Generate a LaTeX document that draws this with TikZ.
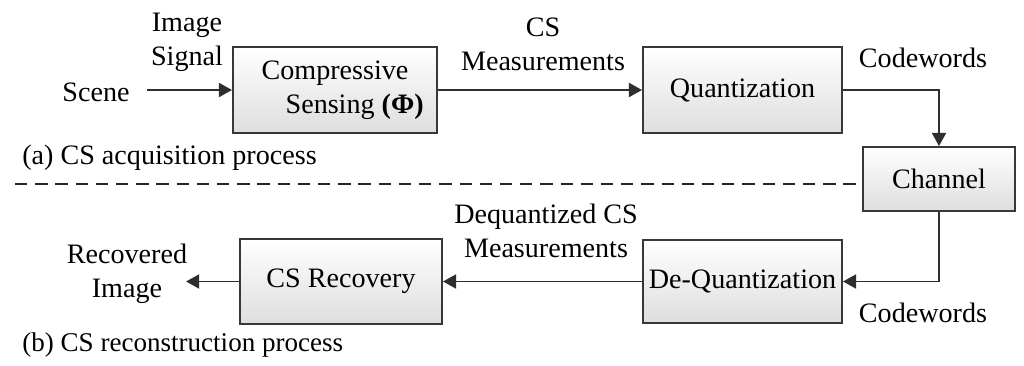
\documentclass[tikz,border=0pt]{standalone}
\usepackage{fontspec}
\setmainfont{Liberation Serif}
\usetikzlibrary{arrows.meta}

\begin{document}
\begin{tikzpicture}[x=0.02cm, y=-0.02cm, line cap=butt, line join=miter,
  font=\fontsize{16}{19.4}\selectfont]

% Styles
\tikzset{
  blockbox/.style={draw=black!78, line width=1.1pt, top color=white,
    bottom color=black!13, align=center, inner sep=2pt},
  flow/.style={draw=black!82, line width=1.1pt,
    -{Triangle[length=7.5pt, width=8pt]}},
  lbl/.style={align=center, inner sep=0pt}
}

% Frame
\useasboundingbox (0,0) rectangle (1024,365);

% --- Blocks ---
\node[blockbox, minimum width=4.08cm, minimum height=1.72cm] (cs)    at (335,90)    {Compressive\\\hspace*{1.4em}Sensing \textbf{(Φ)}};
\node[blockbox, minimum width=3.98cm, minimum height=1.72cm] (quant) at (742.5,90)  {Quantization};
\node[blockbox, minimum width=3.04cm, minimum height=1.28cm] (chan)  at (939,179)   {Channel};
\node[blockbox, minimum width=3.98cm, minimum height=1.66cm] (dequant) at (742.5,281.5) {De-Quantization};
\node[blockbox, minimum width=4.04cm, minimum height=1.70cm] (rec)   at (341,281.5) {CS Recovery};

% --- Labels ---
\node[lbl] (scene)   at (96,92)   {Scene};
\node[lbl] (imgsig)  at (187,42)  {Image\\Signal};
\node[lbl] (csmeas)  at (543,44)  {CS\\Measurements};
\node[lbl] (cw1)     at (923,58)  {Codewords};
\node[lbl, anchor=west] (capa) at (22,158) {(a) CS acquisition process};
\node[lbl] (dqmeas)  at (546,231) {Dequantized CS\\Measurements};
\node[lbl] (recimg)  at (127,274) {Recovered\\Image};
\node[lbl] (cw2)     at (923,313) {Codewords};
\node[lbl, anchor=west, font=\fontsize{15.4}{18}\selectfont] (capb) at (22,345) {(b) CS reconstruction process};

\coordinate (scenein) at (147,90);
\coordinate (recout) at (186,281.5);
\coordinate (dashl) at (15,184);

% --- Connectors ---
\draw[flow] (scenein) -- (cs.west);
\draw[flow] (cs.east) -- (quant.west);
\draw[flow] (quant.east) -| (chan.north);
\draw[flow] (chan.south) |- (dequant.east);
\draw[flow] (dequant.west) -- (rec.east);
\draw[flow] (rec.west) -- (recout);

% Separator
\draw[black!85, line width=1.1pt, dash pattern=on 7pt off 4.5pt] (dashl) -- (chan.west |- dashl);

\end{tikzpicture}
\end{document}
